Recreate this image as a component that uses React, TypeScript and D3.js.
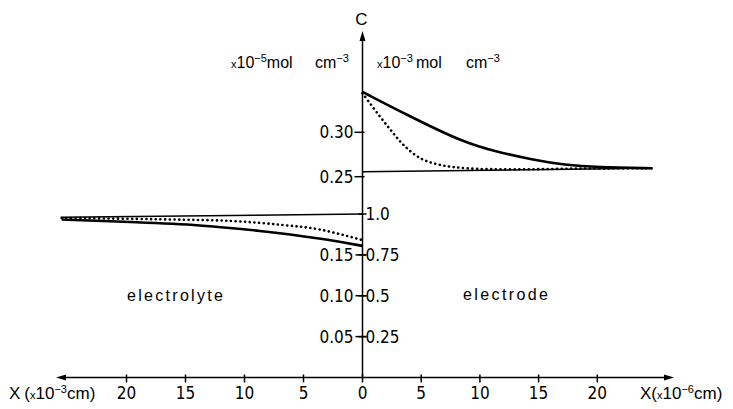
import React from "react";
import * as d3 from "d3";

// ---- data (x in display units, value in the axis's own units) ----
const electrodeSolid: [number, number][] = [
  [0, 0.3455], [3.8, 0.3195], [8.6, 0.2885], [11.5, 0.2778], [14.6, 0.2688],
  [17.2, 0.2632], [20.0, 0.2606], [24.7, 0.2595],
];
const electrodeDotted: [number, number][] = [
  [0, 0.344], [1.28, 0.3214], [2.4, 0.3026], [3.5, 0.2857], [4.94, 0.2707],
  [6.64, 0.2632], [8.9, 0.2595], [12.9, 0.2583], [18.6, 0.2592], [24.7, 0.2595],
];
const electrodeThin: [number, number][] = [[0, 0.2556], [24.7, 0.2595]];

const electrolyteSolid: [number, number][] = [
  [0, 0.805], [3.6, 0.852], [8.7, 0.898], [13.8, 0.933],
  [18.9, 0.949], [25.5, 0.966],
];
const electrolyteDotted: [number, number][] = [
  [0, 0.84], [3.6, 0.905], [6.8, 0.933], [11, 0.957], [16.6, 0.967], [25.5, 0.976],
];
const electrolyteThin: [number, number][] = [[0, 1.0], [25.5, 0.98]];

const xLeftTicks = [0, 5, 10, 15, 20];
const xRightTicks = [5, 10, 15, 20];
const upperTicks = [0.25, 0.3];
const upperTickLabels = ["0.25", "0.30"];
const lowerLeftTicks = [0.05, 0.1, 0.15];
const lowerLeftLabels = ["0.05", "0.10", "0.15"];
const lowerRightTicks = [0.25, 0.5, 0.75, 1.0];
const lowerRightLabels = ["0.25", "0.5", "0.75", "1.0"];

const W = 733;
const H = 409;
const AX = 362.5; // vertical axis position
const AY = 377.5; // horizontal axis position

const xL = d3.scaleLinear().domain([0, 25]).range([AX, AX - 295]);
const xR = d3.scaleLinear().domain([0, 25]).range([AX, AX + 293.5]);
const yHigh = d3.scaleLinear().domain([0.25, 0.3]).range([176.7, 132.3]);
const yLow = d3.scaleLinear().domain([0, 1]).range([AY, 214]);
const yLowLeft = d3.scaleLinear().domain([0, 0.2]).range([AY, 214]);

const tickFont = "'DejaVu Sans Condensed', 'Liberation Sans Narrow', 'DejaVu Sans', sans-serif";
const textFont = "'Liberation Sans', Arial, sans-serif";

export default function App() {
  const lineR = (curve: d3.CurveFactory) =>
    d3
      .line<[number, number]>()
      .x((d) => xR(d[0]))
      .y((d) => yHigh(d[1]))
      .curve(curve);
  const lineL = (curve: d3.CurveFactory) =>
    d3
      .line<[number, number]>()
      .x((d) => xL(d[0]))
      .y((d) => yLow(d[1]))
      .curve(curve);
  const rev = (a: [number, number][]) => [...a].reverse();

  const dotStyle = {
    fill: "none",
    stroke: "#000",
    strokeWidth: 2.6,
    strokeDasharray: "0.1 4.6",
    strokeLinecap: "round" as const,
  };
  const TS = 17;

  return (
    <svg
      width={W}
      height={H}
      style={{ position: "absolute", left: 0, top: 0, background: "#fff" }}
    >
      <rect x={0} y={0} width={W} height={H} fill="#fff" />
      {/* axes */}
      <line x1={AX} y1={38} x2={AX} y2={AY} stroke="#000" strokeWidth={1.5} />
      <polygon points={`${AX},31 ${AX - 3},41 ${AX + 3},41`} fill="#000" />
      <line x1={64} y1={AY} x2={666} y2={AY} stroke="#000" strokeWidth={1.5} />
      <polygon points={`56,${AY} 66,${AY - 3} 66,${AY + 3}`} fill="#000" />
      <polygon points={`674,${AY} 664,${AY - 3} 664,${AY + 3}`} fill="#000" />

      {/* x ticks */}
      {xLeftTicks.map((t) => (
        <g key={"xl" + t}>
          <line x1={xL(t)} x2={xL(t)} y1={AY - 3} y2={AY + 5} stroke="#000" strokeWidth={1.5} />
          <text x={xL(t)} y={399} textAnchor="middle" fontFamily={tickFont} fontSize={TS}>
            {t}
          </text>
        </g>
      ))}
      {xRightTicks.map((t) => (
        <g key={"xr" + t}>
          <line x1={xR(t)} x2={xR(t)} y1={AY - 3} y2={AY + 5} stroke="#000" strokeWidth={1.5} />
          <text x={xR(t)} y={399} textAnchor="middle" fontFamily={tickFont} fontSize={TS}>
            {t}
          </text>
        </g>
      ))}

      {/* y ticks */}
      {upperTicks.map((t, i) => (
        <g key={"yu" + t}>
          <line x1={AX - 8} x2={AX + 2} y1={yHigh(t)} y2={yHigh(t)} stroke="#000" strokeWidth={1.5} />
          <text x={AX - 9} y={yHigh(t)} dy="0.36em" textAnchor="end" fontFamily={tickFont} fontSize={TS}>
            {upperTickLabels[i]}
          </text>
        </g>
      ))}
      {lowerLeftTicks.map((t, i) => (
        <g key={"yll" + t}>
          <line x1={AX - 7} x2={AX + 4} y1={yLowLeft(t)} y2={yLowLeft(t)} stroke="#000" strokeWidth={1.5} />
          <text x={AX - 9} y={yLowLeft(t)} dy="0.36em" textAnchor="end" fontFamily={tickFont} fontSize={TS}>
            {lowerLeftLabels[i]}
          </text>
        </g>
      ))}
      {lowerRightTicks.map((t, i) => (
        <g key={"ylr" + t}>
          <line x1={AX - 4} x2={AX + 4} y1={yLow(t)} y2={yLow(t)} stroke="#000" strokeWidth={1.5} />
          <text x={AX + 3} y={yLow(t)} dy="0.36em" textAnchor="start" fontFamily={tickFont} fontSize={TS}>
            {lowerRightLabels[i]}
          </text>
        </g>
      ))}

      {/* electrode curves */}
      <path d={lineR(d3.curveLinear)(electrodeThin) || ""} fill="none" stroke="#000" strokeWidth={1.5} />
      <path d={lineR(d3.curveBasis)(electrodeSolid) || ""} fill="none" stroke="#000" strokeWidth={2.6} />
      <path d={lineR(d3.curveCatmullRom)(electrodeDotted) || ""} {...dotStyle} />

      {/* electrolyte curves */}
      <path d={lineL(d3.curveLinear)(rev(electrolyteThin)) || ""} fill="none" stroke="#000" strokeWidth={1.5} />
      <path d={lineL(d3.curveBasis)(rev(electrolyteSolid)) || ""} fill="none" stroke="#000" strokeWidth={2.6} />
      <path d={lineL(d3.curveCatmullRom)(rev(electrolyteDotted)) || ""} {...dotStyle} />

      {/* labels */}
      <text x={AX - 1} y={25} textAnchor="middle" fontFamily={textFont} fontSize={17}>
        C
      </text>
      <text y={68} fontFamily={textFont} fontSize={16}>
        <tspan x={231} fontSize={11}>x</tspan>
        <tspan>10</tspan>
        <tspan fontSize={11} dy={-6}>−5</tspan>
        <tspan dy={6}>mol</tspan>
        <tspan x={315}>cm</tspan>
        <tspan fontSize={11} dy={-6}>−3</tspan>
      </text>
      <text y={68} fontFamily={textFont} fontSize={16}>
        <tspan x={377} fontSize={11}>x</tspan>
        <tspan>10</tspan>
        <tspan fontSize={11} dy={-6}>−3</tspan>
        <tspan dy={6} x={416}>mol</tspan>
        <tspan x={466}>cm</tspan>
        <tspan fontSize={11} dy={-6}>−3</tspan>
      </text>

      <text x={127} y={301} fontFamily={textFont} fontSize={16} letterSpacing={2.3}>
        electrolyte
      </text>
      <text x={463} y={300} fontFamily={textFont} fontSize={16} letterSpacing={2.4}>
        electrode
      </text>

      <text y={399} fontFamily={textFont} fontSize={17}>
        <tspan x={9}>X</tspan>
        <tspan dx={4}>(</tspan>
        <tspan fontSize={11}>x</tspan>
        <tspan>10</tspan>
        <tspan fontSize={11} dy={-6}>−3</tspan>
        <tspan dy={6}>cm)</tspan>
      </text>
      <text y={399} fontFamily={textFont} fontSize={17}>
        <tspan x={640}>X</tspan>
        <tspan>(</tspan>
        <tspan fontSize={11}>x</tspan>
        <tspan>10</tspan>
        <tspan fontSize={11} dy={-6}>−6</tspan>
        <tspan dy={6}>cm)</tspan>
      </text>
    </svg>
  );
}
